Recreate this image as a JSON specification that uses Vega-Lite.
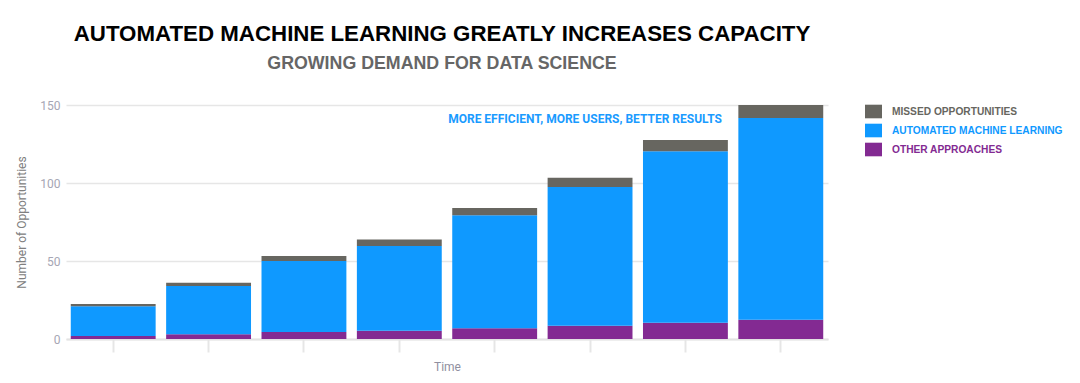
{
  "$schema": "https://vega.github.io/schema/vega-lite/v6.json",
  "autosize": {"type": "none"},
  "width": 762,
  "height": 234,
  "padding": {"left": 66, "top": 105, "right": 252, "bottom": 44},
  "background": "white",
  "title": {
    "text": "AUTOMATED MACHINE LEARNING GREATLY INCREASES CAPACITY",
    "subtitle": "GROWING DEMAND FOR DATA SCIENCE",
    "anchor": "middle",
    "frame": "group",
    "font": "Liberation Sans",
    "fontSize": 22.3,
    "fontWeight": "bold",
    "color": "#000000",
    "subtitleFont": "Liberation Sans",
    "subtitleFontSize": 17.8,
    "subtitleFontWeight": "bold",
    "subtitleColor": "#666666",
    "subtitlePadding": 10,
    "offset": 26,
    "dx": -5
  },
  "config": {
    "view": {"stroke": null},
    "font": "Roboto"
  },
  "datasets": {
    "bars": [
      {"period": "1", "series": "OTHER APPROACHES", "count": 2},
      {"period": "1", "series": "AUTOMATED MACHINE LEARNING", "count": 19},
      {"period": "1", "series": "MISSED OPPORTUNITIES", "count": 1.4},
      {"period": "2", "series": "OTHER APPROACHES", "count": 3},
      {"period": "2", "series": "AUTOMATED MACHINE LEARNING", "count": 31},
      {"period": "2", "series": "MISSED OPPORTUNITIES", "count": 2},
      {"period": "3", "series": "OTHER APPROACHES", "count": 4.5},
      {"period": "3", "series": "AUTOMATED MACHINE LEARNING", "count": 45.5},
      {"period": "3", "series": "MISSED OPPORTUNITIES", "count": 3.2},
      {"period": "4", "series": "OTHER APPROACHES", "count": 5.3},
      {"period": "4", "series": "AUTOMATED MACHINE LEARNING", "count": 54.3},
      {"period": "4", "series": "MISSED OPPORTUNITIES", "count": 4.2},
      {"period": "5", "series": "OTHER APPROACHES", "count": 6.9},
      {"period": "5", "series": "AUTOMATED MACHINE LEARNING", "count": 72.4},
      {"period": "5", "series": "MISSED OPPORTUNITIES", "count": 4.7},
      {"period": "6", "series": "OTHER APPROACHES", "count": 8.5},
      {"period": "6", "series": "AUTOMATED MACHINE LEARNING", "count": 89},
      {"period": "6", "series": "MISSED OPPORTUNITIES", "count": 5.8},
      {"period": "7", "series": "OTHER APPROACHES", "count": 10.4},
      {"period": "7", "series": "AUTOMATED MACHINE LEARNING", "count": 110},
      {"period": "7", "series": "MISSED OPPORTUNITIES", "count": 7.1},
      {"period": "8", "series": "OTHER APPROACHES", "count": 12.4},
      {"period": "8", "series": "AUTOMATED MACHINE LEARNING", "count": 129.3},
      {"period": "8", "series": "MISSED OPPORTUNITIES", "count": 8.3}
    ],
    "note": [
      {"period": "6", "value": 141, "label": "MORE EFFICIENT, MORE USERS, BETTER RESULTS"}
    ]
  },
  "layer": [
    {
      "data": {"name": "bars"},
      "transform": [
        {"calculate": "indexof(['OTHER APPROACHES','AUTOMATED MACHINE LEARNING','MISSED OPPORTUNITIES'], datum.series)", "as": "stackorder"}
      ],
      "mark": {"type": "bar"},
      "encoding": {
        "x": {
          "field": "period",
          "type": "ordinal",
          "scale": {"paddingInner": 0.11, "paddingOuter": 0.05},
          "axis": {
            "title": "Time",
            "labels": false,
            "titleFont": "Roboto",
            "titleFontSize": 12,
            "titleFontWeight": "normal",
            "titleColor": "#9090a0",
            "titlePadding": 8,
            "domainColor": "#e3e3e3",
            "domainWidth": 2,
            "tickColor": "#e6e6e6",
            "tickWidth": 2,
            "tickSize": 13,
            "grid": false
          }
        },
        "y": {
          "field": "count",
          "type": "quantitative",
          "stack": "zero",
          "scale": {"domain": [0, 150], "nice": false},
          "axis": {
            "title": "Number of Opportunities",
            "values": [0, 50, 100, 150],
            "domain": false,
            "ticks": false,
            "labelPadding": 6,
            "labelFont": "Roboto",
            "labelFontSize": 12,
            "labelColor": "#a6a6b4",
            "titleFont": "Roboto",
            "titleFontSize": 12,
            "titleFontWeight": "normal",
            "titleColor": "#808080",
            "titlePadding": 11,
            "gridColor": "#e6e6e6",
            "gridWidth": 1.5
          }
        },
        "color": {
          "field": "series",
          "type": "nominal",
          "scale": {
            "domain": ["MISSED OPPORTUNITIES", "AUTOMATED MACHINE LEARNING", "OTHER APPROACHES"],
            "range": ["#676660", "#0f99ff", "#832a92"]
          },
          "legend": {
            "title": null,
            "orient": "none",
            "legendX": 799,
            "legendY": -2,
            "symbolType": "M-1,-0.8H1V0.8H-1Z",
            "symbolSize": 289,
            "symbolStrokeWidth": 0,
            "symbolOpacity": 1,
            "labelFont": "Liberation Sans",
            "labelFontSize": 10.2,
            "labelFontWeight": "bold",
            "labelOffset": 10,
            "labelLimit": 300,
            "rowPadding": 3,
            "encode": {
              "labels": {"update": {"fill": {"signal": "scale('color', datum.value)"}}}
            }
          }
        },
        "order": {"field": "stackorder", "type": "quantitative"}
      }
    },
    {
      "data": {"name": "note"},
      "mark": {"type": "text", "font": "Roboto", "fontSize": 12, "fontWeight": "bold", "color": "#1a9bff", "align": "center", "baseline": "middle", "dx": -5},
      "encoding": {
        "x": {"field": "period", "type": "ordinal"},
        "y": {"field": "value", "type": "quantitative"},
        "text": {"field": "label"}
      }
    }
  ]
}
